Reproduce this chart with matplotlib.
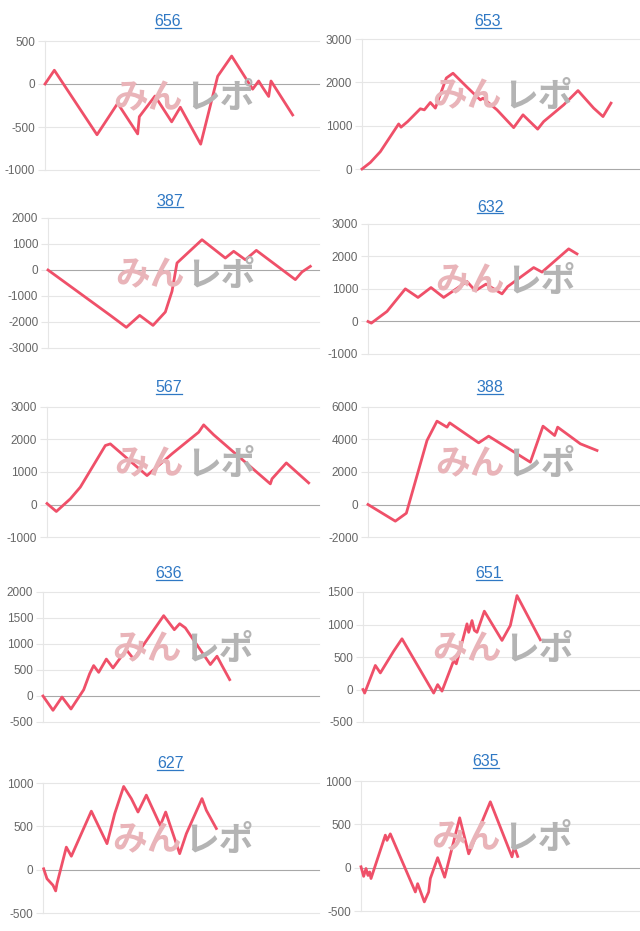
import matplotlib
matplotlib.use('Agg')
import matplotlib.pyplot as plt
from matplotlib.lines import Line2D

plt.rcParams['font.family'] = ['Liberation Sans', 'DejaVu Sans']

# ---- data (x = play progress steps, y = coin difference) ----
titles = ["656", "653", "387", "632", "567", "388", "636", "651", "627", "635"]

x656 = [0, 28, 156, 218, 278, 283, 330, 380, 406, 467, 518, 560, 623, 641, 653, 671, 678, 743]
y656 = [0, 160, -590, -225, -580, -380, -140, -440, -270, -700, 90, 325, -60, 35, -40, -145, 35, -360]

x653 = [0, 25, 55, 110, 117, 137, 175, 187, 205, 220, 253, 273, 315, 355, 363, 405, 455, 483, 527, 545, 605, 648, 695, 723, 747]
y653 = [0, 150, 400, 1040, 965, 1095, 1390, 1365, 1535, 1405, 2100, 2210, 1890, 1595, 1635, 1365, 955, 1250, 920, 1095, 1480, 1810, 1405, 1210, 1520]

x387 = [0, 187, 235, 275, 315, 352, 372, 387, 462, 532, 557, 592, 625, 742, 762, 787]
y387 = [0, -1745, -2205, -1745, -2130, -1615, -820, 270, 1165, 460, 720, 395, 755, -370, -75, 140]

x632 = [0, 10, 57, 112, 150, 189, 227, 297, 322, 354, 402, 419, 497, 522, 602, 627]
y632 = [0, -50, 310, 1005, 740, 1045, 740, 1230, 945, 1150, 850, 1075, 1660, 1520, 2235, 2080]

x567 = [0, 28, 70, 100, 175, 190, 300, 375, 455, 470, 500, 595, 670, 675, 718, 785]
y567 = [30, -215, 175, 535, 1815, 1865, 890, 1560, 2225, 2450, 2145, 1300, 635, 790, 1280, 665]

x388 = [0, 82, 115, 177, 207, 237, 245, 332, 362, 487, 525, 560, 569, 637, 687]
y388 = [0, -1025, -535, 3940, 5130, 4760, 5025, 3795, 4205, 2605, 4820, 4245, 4760, 3735, 3325]

x636 = [0, 30, 57, 84, 122, 140, 152, 167, 190, 210, 250, 272, 362, 394, 410, 427, 502, 522, 537, 560]
y636 = [0, -275, -20, -250, 120, 430, 585, 455, 710, 540, 890, 710, 1545, 1275, 1390, 1310, 605, 765, 585, 315]

x651 = [0, 5, 37, 52, 92, 117, 212, 224, 237, 272, 280, 312, 317, 327, 334, 342, 364, 417, 442, 462, 532]
y651 = [0, -55, 370, 255, 590, 780, -55, 75, -25, 445, 395, 1010, 880, 1060, 910, 880, 1205, 755, 985, 1445, 765]

x627 = [2, 12, 30, 38, 42, 70, 85, 145, 192, 215, 242, 265, 285, 310, 352, 368, 410, 430, 477, 490, 520]
y627 = [10, -105, -180, -245, -160, 260, 155, 675, 300, 645, 960, 820, 665, 860, 510, 665, 185, 415, 820, 685, 475]

x635 = [0, 8, 15, 21, 26, 30, 73, 78, 88, 163, 170, 190, 203, 208, 230, 251, 296, 323, 388, 453, 460, 470]
y635 = [10, -100, -10, -90, -50, -125, 375, 315, 390, -280, -185, -395, -280, -125, 115, -110, 575, 160, 760, 125, 240, 130]

yticks656 = [-1000, -500, 0, 500]
yticks653 = [0, 1000, 2000, 3000]
yticks387 = [-3000, -2000, -1000, 0, 1000, 2000]
yticks632 = [-1000, 0, 1000, 2000, 3000]
yticks567 = [-1000, 0, 1000, 2000, 3000]
yticks388 = [-2000, 0, 2000, 4000, 6000]
yticks636 = [-500, 0, 500, 1000, 1500, 2000]
yticks651 = [-500, 0, 500, 1000, 1500]
yticks627 = [-500, 0, 500, 1000]
yticks635 = [-500, 0, 500, 1000]

series = [
    (x656, y656, yticks656), (x653, y653, yticks653),
    (x387, y387, yticks387), (x632, y632, yticks632),
    (x567, y567, yticks567), (x388, y388, yticks388),
    (x636, y636, yticks636), (x651, y651, yticks651),
    (x627, y627, yticks627), (x635, y635, yticks635),
]

# ---- layout (pixels): left, top, right, bottom, title_x, title_y ----
layout = [
    (45, 41, 319, 170, 168, 22), (362, 39, 639, 169, 488, 22),
    (48, 218, 319, 348, 170, 201), (368, 224, 639, 354, 490, 207),
    (47, 407, 319, 537, 169, 388), (368, 407, 639, 537, 490, 388),
    (43, 592, 319, 722, 169, 574), (363, 592, 639, 722, 489, 574),
    (43, 783, 319, 913, 170, 764), (361, 781, 639, 911, 486, 762),
]

W, H = 640, 931
fig = plt.figure(figsize=(W / 100, H / 100), dpi=100)
fig.patch.set_facecolor('white')

LINE = '#ef5069'
GRID = '#e6e6e6'
ZERO = '#a8a8a8'
TITLE_C = '#2f78c4'

title_texts = []
for (xs, ys, yt), (l, t, r, b, tx, ty), ttl in zip(series, layout, titles):
    ax = fig.add_axes([l / W, 1 - b / H, (r - l) / W, (b - t) / H])
    ax.set_facecolor('none')
    ax.set_xlim(0, (r - l) * 3)
    ax.set_ylim(yt[0], yt[-1])
    ax.set_yticks(yt)
    ax.set_yticklabels([str(v) for v in yt])
    ax.set_xticks([])
    for sp in ['top', 'right', 'bottom']:
        ax.spines[sp].set_visible(False)
    ax.spines['left'].set_color(GRID)
    ax.spines['left'].set_linewidth(0.8)
    ax.tick_params(axis='y', length=5, width=0.8, color=GRID, pad=2,
                   labelsize=8.5, labelcolor='#666666')
    for v in yt:
        c = ZERO if v == 0 else GRID
        ax.axhline(v, color=c, lw=0.8, zorder=1, clip_on=False)
    ax.plot(xs, ys, color=LINE, lw=2.0, zorder=5, solid_joinstyle='round',
            clip_on=False)

    # watermark
    cx = (l + r) / 2
    cy = (t + b) / 2 - 8
    fig.text((cx + 1) / W, 1 - cy / H, "みん", ha='right', va='center',
             fontsize=25, fontweight='bold', color='#e9b4b9',
             family=['Noto Sans CJK JP', 'DejaVu Sans'], zorder=0)
    fig.text((cx + 3) / W, 1 - cy / H, "レポ", ha='left', va='center',
             fontsize=25, fontweight='bold', color='#b4b4b4',
             family=['Noto Sans CJK JP', 'DejaVu Sans'], zorder=0)

    tt = fig.text(tx / W, 1 - ty / H, ttl, ha='center', va='center',
                  fontsize=11.5, color=TITLE_C)
    title_texts.append(tt)

fig.canvas.draw()
renderer = fig.canvas.get_renderer()
for tt in title_texts:
    bb = tt.get_window_extent(renderer)
    yline = bb.y0 + 1.5
    fig.add_artist(Line2D([bb.x0 / W, bb.x1 / W], [yline / H, yline / H],
                          color=TITLE_C, lw=0.9, transform=fig.transFigure))

fig.savefig('out.png', dpi=100, facecolor='white')
